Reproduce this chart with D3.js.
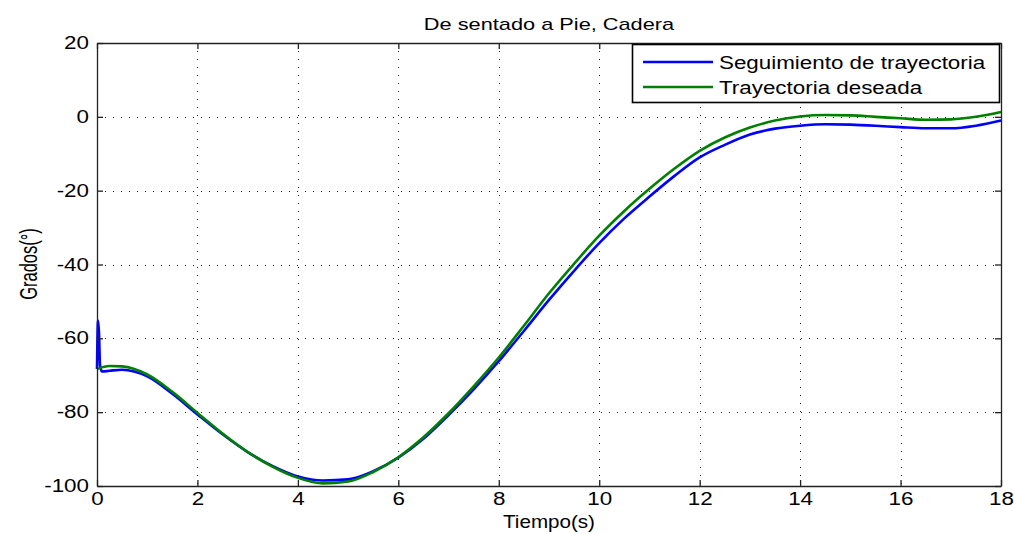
<!DOCTYPE html>
<html><head><meta charset="utf-8">
<script src="https://cdn.jsdelivr.net/npm/d3@7"></script>
<style>body{margin:0;background:#fff}svg text{font-family:"Liberation Sans",Arial,sans-serif;fill:#000}</style>
</head><body><svg id="c" width="1014" height="534"></svg>
<script>
const titleText = "De sentado a Pie, Cadera";
const xLabel = "Tiempo(s)";
const yLabel = "Grados(°)";
const legendLabels = ["Seguimiento de trayectoria", "Trayectoria deseada"];
const xTicks = [0, 2, 4, 6, 8, 10, 12, 14, 16, 18];
const yTicks = [20, 0, -20, -40, -60, -80, -100];

const timeDeseada = [0, 0.25, 0.5, 1, 1.5, 2, 2.5, 3, 3.5, 4, 4.5, 5, 5.5, 6, 6.5, 7, 7.5, 8, 8.5, 9, 9.5, 10, 10.5, 11, 11.5, 12, 12.5, 13, 13.5, 14, 14.5, 15, 15.5, 16, 16.5, 17, 17.5, 18];
const deseada = [-68.3, -67.5, -67.6, -69.8, -74.5, -80.2, -85.8, -90.8, -94.8, -97.8, -99.3, -98.8, -96.2, -92.2, -86.8, -80.3, -73.0, -65.2, -56.6, -47.8, -39.8, -32.2, -25.5, -19.5, -14.0, -9.2, -5.6, -2.9, -1.0, 0.1, 0.5, 0.4, 0.0, -0.4, -0.8, -0.7, 0.0, 1.3];

const timeSeguimiento = [0, 0.02, 0.04, 0.06, 0.1, 0.25, 0.5, 1, 1.5, 2, 2.5, 3, 3.5, 4, 4.5, 5, 5.5, 6, 6.5, 7, 7.5, 8, 8.5, 9, 9.5, 10, 10.5, 11, 11.5, 12, 12.5, 13, 13.5, 14, 14.5, 15, 15.5, 16, 16.5, 17, 17.5, 18];
const seguimiento = [-68.3, -55.2, -58.6, -67.3, -69.0, -68.8, -68.5, -70.3, -75.0, -80.6, -86.0, -90.8, -94.6, -97.4, -98.5, -98.2, -96.0, -92.3, -87.2, -80.8, -73.8, -66.2, -58.0, -49.6, -41.7, -34.2, -27.5, -21.6, -16.0, -11.0, -7.6, -4.8, -3.2, -2.4, -2.0, -2.1, -2.4, -2.8, -3.1, -3.1, -2.4, -1.0];

const L = 97, R = 1001, T = 43, B = 486;
const SX = 1.28;
const svg = d3.select("#c");
const x = d3.scaleLinear().domain([0, 18]).range([L, R]);
const y = d3.scaleLinear().domain([-100, 20]).range([B, T]);
const fmt = d => String(d);

// grid
const grid = svg.append("g").attr("stroke", "#222").attr("stroke-width", 1).attr("stroke-dasharray", "1,7");
grid.selectAll(".gx").data(xTicks.slice(1, -1)).join("line")
  .attr("x1", d => Math.round(x(d)) + 0.5).attr("x2", d => Math.round(x(d)) + 0.5).attr("y1", T).attr("y2", B);
grid.selectAll(".gy").data(yTicks.slice(1, -1)).join("line")
  .attr("y1", d => Math.round(y(d)) + 0.5).attr("y2", d => Math.round(y(d)) + 0.5).attr("x1", L).attr("x2", R);

// lines
const line = d3.line().x(d => x(d[0])).y(d => y(d[1])).curve(d3.curveMonotoneX);
svg.append("path").datum(timeSeguimiento.map((t, i) => [t, seguimiento[i]]))
  .attr("d", line).attr("fill", "none").attr("stroke", "#0000ff").attr("stroke-width", 2.6);
svg.append("path").datum(timeDeseada.map((t, i) => [t, deseada[i]]))
  .attr("d", line).attr("fill", "none").attr("stroke", "#008000").attr("stroke-width", 2.6);

// axes
const fs = "17.5px";
const ax = svg.append("g").attr("transform", `translate(0,${B})`)
  .call(d3.axisBottom(x).tickValues(xTicks).tickSizeInner(-6).tickSizeOuter(0).tickPadding(7).tickFormat(fmt));
const ay = svg.append("g").attr("transform", `translate(${L},0)`)
  .call(d3.axisLeft(y).tickValues(yTicks).tickSizeInner(-6).tickSizeOuter(0).tickPadding(8).tickFormat(fmt));
const at = svg.append("g").attr("transform", `translate(0,${T})`)
  .call(d3.axisTop(x).tickValues(xTicks).tickSizeInner(-6).tickSizeOuter(0).tickFormat(""));
const ar = svg.append("g").attr("transform", `translate(${R},0)`)
  .call(d3.axisRight(y).tickValues(yTicks).tickSizeInner(-6).tickSizeOuter(0).tickFormat(""));
[ax, ay, at, ar].forEach(g => {
  g.select(".domain").attr("stroke", "#222").attr("stroke-width", 1.3);
  g.selectAll(".tick line").attr("stroke", "#222").attr("stroke-width", 1.3);
  g.selectAll("text").style("font-size", fs).attr("fill", "#000")
    .attr("transform", `scale(${SX},1)`).attr("font-family", null);
});
ay.selectAll("text").attr("x", -8 / SX);

// title & labels
svg.append("text").attr("transform", `translate(549,30) scale(${SX},1)`)
  .attr("text-anchor", "middle").style("font-size", "17px").text(titleText);
svg.append("text").attr("transform", `translate(549,528) scale(${SX * 0.92},1)`)
  .attr("text-anchor", "middle").style("font-size", "17.5px").text(xLabel);
svg.append("text").attr("transform", `translate(37,264) scale(1.45,1) rotate(-90)`)
  .attr("text-anchor", "middle").style("font-size", "16.5px").text(yLabel);

// legend
const lg = svg.append("g");
lg.append("rect").attr("x", 632.5).attr("y", 44.5).attr("width", 367).attr("height", 58)
  .attr("fill", "#fff").attr("stroke", "#000").attr("stroke-width", 1.6);
const legendColors = ["#0000ff", "#008000"];
legendLabels.forEach((lab, i) => {
  const yy = 62 + i * 25;
  lg.append("line").attr("x1", 643).attr("x2", 713).attr("y1", yy).attr("y2", yy)
    .attr("stroke", legendColors[i]).attr("stroke-width", 2.6);
  lg.append("text").attr("transform", `translate(719,${yy + 6.5}) scale(${SX},1)`)
    .style("font-size", "17.5px").text(lab);
});
</script></body></html>
